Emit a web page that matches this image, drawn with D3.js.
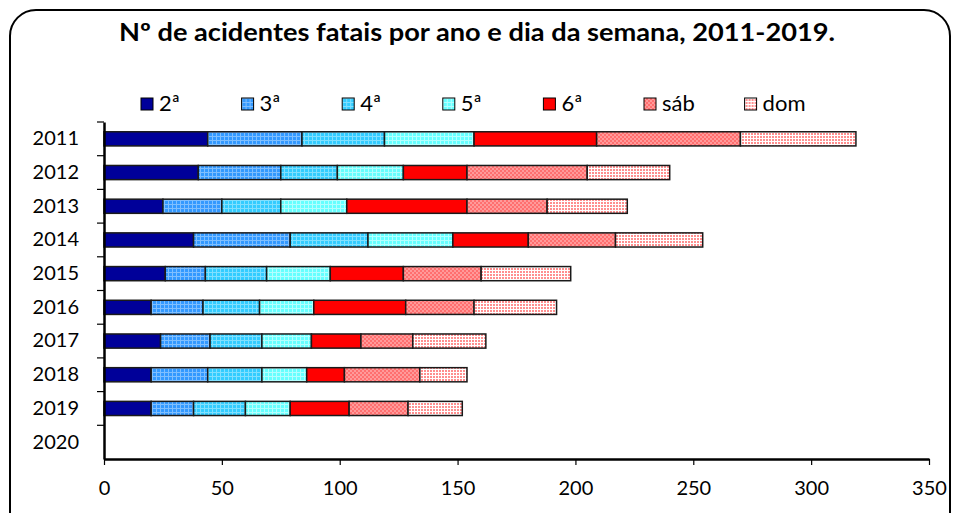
<!DOCTYPE html>
<html>
<head>
<meta charset="utf-8">
<script src="https://cdn.jsdelivr.net/npm/d3@7"></script>
<style>
  body { margin: 0; background: #fff; }
  text { font-family: Lato, "Noto Sans", sans-serif; fill: #000; }
</style>
</head>
<body>
<div id="container"></div>
<script>
/* DATA */
const years = ["2011", "2012", "2013", "2014", "2015", "2016", "2017", "2018", "2019", "2020"];
const days = ["2ª", "3ª", "4ª", "5ª", "6ª", "sáb", "dom"];
const seg = {
  "2ª":  [44, 40, 25, 38, 26, 20, 24, 20, 20, 0],
  "3ª":  [40, 35, 25, 41, 17, 22, 21, 24, 18, 0],
  "4ª":  [35, 24, 25, 33, 26, 24, 22, 23, 22, 0],
  "5ª":  [38, 28, 28, 36, 27, 23, 21, 19, 19, 0],
  "6ª":  [52, 27, 51, 32, 31, 39, 21, 16, 25, 0],
  "sáb": [61, 51, 34, 37, 33, 29, 22, 32, 25, 0],
  "dom": [49, 35, 34, 37, 38, 35, 31, 20, 23, 0]
};
const xTicks = [0, 50, 100, 150, 200, 250, 300, 350];

/* CONSTANTS */
const width = 954, height = 513;
const margin = { top: 122, bottom: 54, left: 104, right: 25 };

const svg = d3.select("#container").append("svg")
  .attr("width", width)
  .attr("height", height);

/* PATTERNS */
const defs = svg.append("defs");
function gridPattern(id, bg, line, size) {
  const p = defs.append("pattern")
    .attr("id", id)
    .attr("patternUnits", "userSpaceOnUse")
    .attr("width", size).attr("height", size);
  p.append("rect").attr("width", size).attr("height", size).attr("fill", bg);
  p.append("rect").attr("width", size).attr("height", 1).attr("fill", line);
  p.append("rect").attr("width", 1).attr("height", size).attr("fill", line);
}
gridPattern("p3", "#3399ff", "#7fbfff", 4);
gridPattern("p4", "#33ccff", "#80e0ff", 4);
gridPattern("p5", "#66ffff", "#b3ffff", 4);
gridPattern("pdom", "#ff8f8f", "#ffffff", 3);

const chk = defs.append("pattern")
  .attr("id", "psab")
  .attr("patternUnits", "userSpaceOnUse")
  .attr("width", 4).attr("height", 4);
chk.append("rect").attr("width", 4).attr("height", 4).attr("fill", "#ff6f6f");
chk.append("rect").attr("width", 2).attr("height", 2).attr("fill", "#ff9a9a");
chk.append("rect").attr("x", 2).attr("y", 2).attr("width", 2).attr("height", 2).attr("fill", "#ff9a9a");

const fills = {
  "2ª": "#000099", "3ª": "url(#p3)", "4ª": "url(#p4)", "5ª": "url(#p5)",
  "6ª": "#ff0000", "sáb": "url(#psab)", "dom": "url(#pdom)"
};

/* FRAME */
svg.append("rect")
  .attr("x", 10).attr("y", 10)
  .attr("width", 940).attr("height", 530)
  .attr("rx", 26).attr("ry", 26)
  .attr("fill", "none")
  .attr("stroke", "#000")
  .attr("stroke-width", 2);

/* TITLE */
svg.append("text")
  .attr("x", 477).attr("y", 41)
  .attr("text-anchor", "middle")
  .attr("textLength", 716)
  .attr("lengthAdjust", "spacingAndGlyphs")
  .style("font-weight", "bold")
  .style("font-size", "24px")
  .text("Nº de acidentes fatais por ano e dia da semana, 2011-2019.");

/* SCALES */
const xScale = d3.scaleLinear()
  .domain([0, 350])
  .range([margin.left, width - margin.right]);

const yScale = d3.scaleBand()
  .domain(years)
  .range([margin.top, height - margin.bottom])
  .paddingInner(0.58)
  .paddingOuter(0.29);

/* STACK */
const table = years.map((y, i) => {
  const row = { year: y };
  days.forEach(d => row[d] = seg[d][i]);
  return row;
});
const series = d3.stack().keys(days)(table);

svg.append("g")
  .selectAll("g")
  .data(series)
  .join("g")
  .attr("fill", d => fills[d.key])
  .selectAll("rect")
  .data(d => d.filter(v => v[1] > v[0]))
  .join("rect")
  .attr("x", d => xScale(d[0]))
  .attr("y", d => yScale(d.data.year))
  .attr("width", d => xScale(d[1]) - xScale(d[0]))
  .attr("height", yScale.bandwidth())
  .attr("stroke", "#1a1a1a")
  .attr("stroke-width", 1.5);

/* AXES */
const xAxis = d3.axisBottom(xScale)
  .tickValues(xTicks)
  .tickSize(6)
  .tickPadding(16)
  .tickSizeOuter(0);

svg.append("g")
  .attr("transform", `translate(0,${height - margin.bottom})`)
  .call(xAxis)
  .call(g => g.select(".domain").attr("stroke-width", 2.5))
  .call(g => g.selectAll(".tick line").attr("stroke-width", 1.2))
  .call(g => g.selectAll(".tick text").style("font-size", "20px").style("font-family", "Lato, sans-serif"));

const yAxis = d3.axisLeft(yScale)
  .tickSize(0)
  .tickPadding(25);

const yG = svg.append("g")
  .attr("transform", `translate(${margin.left},0)`)
  .call(yAxis)
  .call(g => g.select(".domain").attr("stroke-width", 2.5))
  .call(g => g.selectAll(".tick text").style("font-size", "20px").style("font-family", "Lato, sans-serif"));

// tick marks on the band boundaries
const step = yScale.step();
yG.selectAll(".bound")
  .data(years)
  .join("line")
  .attr("class", "bound")
  .attr("x1", -7).attr("x2", 0)
  .attr("y1", d => yScale(d) - step * 0.29)
  .attr("y2", d => yScale(d) - step * 0.29)
  .attr("stroke", "#000")
  .attr("stroke-width", 1.2);

/* LEGEND */
const legend = svg.append("g")
  .selectAll("g")
  .data(days)
  .join("g")
  .attr("transform", (d, i) => `translate(${141 + i * 100.6},98)`);

legend.append("rect")
  .attr("width", 12).attr("height", 12)
  .attr("fill", d => fills[d])
  .attr("stroke", "#000")
  .attr("stroke-width", 1);

legend.append("text")
  .attr("x", 18).attr("y", 13)
  .style("font-size", "22px")
  .text(d => d);
</script>
</body>
</html>
